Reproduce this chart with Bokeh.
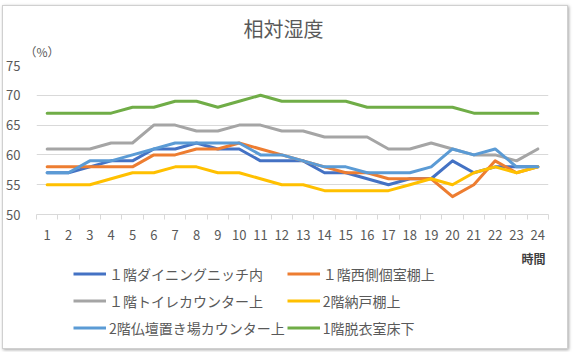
from bokeh.plotting import figure
from bokeh.layouts import column
from bokeh.models import (Range1d, FixedTicker, Legend, LegendItem, Label,
                          ColumnDataSource, Title)
from bokeh.embed import file_html
from bokeh.resources import INLINE

# ---- data ----
hours = list(range(1, 25))
hour_labels = [str(h) for h in hours]
y_ticks = [50, 55, 60, 65, 70, 75]

series_names = [
    "１階ダイニングニッチ内",
    "１階西側個室棚上",
    "１階トイレカウンター上",
    "2階納戸棚上",
    "2階仏壇置き場カウンター上",
    "1階脱衣室床下",
]
dining = [57, 57, 58, 59, 59, 61, 61, 62, 61, 61, 59, 59, 59, 57, 57, 56, 55, 56, 56, 59, 57, 58, 58, 58]
west_room = [58, 58, 58, 58, 58, 60, 60, 61, 61, 62, 61, 60, 59, 58, 57, 57, 56, 56, 56, 53, 55, 59, 57, 58]
toilet = [61, 61, 61, 62, 62, 65, 65, 64, 64, 65, 65, 64, 64, 63, 63, 63, 61, 61, 62, 61, 60, 60, 59, 61]
storage = [55, 55, 55, 56, 57, 57, 58, 58, 57, 57, 56, 55, 55, 54, 54, 54, 54, 55, 56, 55, 57, 58, 57, 58]
butsudan = [57, 57, 59, 59, 60, 61, 62, 62, 62, 62, 60, 60, 59, 58, 58, 57, 57, 57, 58, 61, 60, 61, 58, 58]
dressing = [67, 67, 67, 67, 68, 68, 69, 69, 68, 69, 70, 69, 69, 69, 69, 68, 68, 68, 68, 68, 67, 67, 67, 67]
series_values = [dining, west_room, toilet, storage, butsudan, dressing]
colors = ["#4472C4", "#ED7D31", "#A5A5A5", "#FFC000", "#5B9BD5", "#70AD47"]

title_text = "相対湿度"
unit_text = "（%）"
xlabel_text = "時間"

FONT = "Noto Sans CJK JP"
TXT = "#595959"
W = 566

# ---- main chart ----
p = figure(width=W, height=244, output_backend="svg", toolbar_location=None,
           x_range=Range1d(0.5, 24.5), y_range=Range1d(50, 75),
           min_border_left=32, min_border_right=19, min_border_top=59,
           min_border_bottom=36)
p.outline_line_color = None
p.background_fill_color = "white"
p.border_fill_color = "white"

# titles (listed from the frame outwards)
p.add_layout(Title(text=unit_text, align="left", offset=-12, standoff=12,
                   text_font=FONT, text_font_size="12px", text_font_style="normal",
                   text_color=TXT), "above")
p.add_layout(Title(text=title_text, align="left", offset=207, standoff=-16,
                   text_baseline="alphabetic",
                   text_font=FONT, text_font_size="20px", text_font_style="normal",
                   text_color=TXT), "above")

for vals, col in zip(series_values, colors):
    src = ColumnDataSource(dict(x=hours, y=vals))
    p.line("x", "y", source=src, line_color=col, line_width=3,
           line_join="round", line_cap="round")

p.xaxis.ticker = FixedTicker(ticks=hours, minor_ticks=[h - 0.5 for h in hours] + [24.5])
p.xaxis.major_label_overrides = {h: l for h, l in zip(hours, hour_labels)}
p.xaxis.major_tick_line_color = None
p.xaxis.minor_tick_line_color = "#d9d9d9"
p.xaxis.minor_tick_in = 0
p.xaxis.minor_tick_out = 5
p.xaxis.axis_line_color = "#d9d9d9"
p.xaxis.major_label_standoff = 9
p.xaxis.major_label_text_font = FONT
p.xaxis.major_label_text_font_size = "13px"
p.xaxis.major_label_text_color = TXT

p.yaxis.ticker = FixedTicker(ticks=y_ticks)
p.yaxis.axis_line_color = None
p.yaxis.major_tick_line_color = None
p.yaxis.minor_tick_line_color = None
p.yaxis.major_label_standoff = 10
p.yaxis.major_label_text_font = FONT
p.yaxis.major_label_text_font_size = "13px"
p.yaxis.major_label_text_color = TXT

p.xgrid.grid_line_color = None
p.ygrid.ticker = FixedTicker(ticks=y_ticks)
p.ygrid.grid_line_color = "#d9d9d9"
p.ygrid.grid_line_width = 1

# ---- legend area (frame is aligned with the main chart's frame) ----
LH = 98
leg = figure(width=W, height=LH, output_backend="svg", toolbar_location=None,
             x_axis_type=None, y_axis_type=None,
             x_range=Range1d(0.5, 24.5), y_range=Range1d(LH, 0), min_border=0)
leg.outline_line_color = None
leg.grid.visible = False
leg.background_fill_color = "white"
leg.border_fill_color = "white"
leg.add_layout(Label(x=23.8, y=8, text=xlabel_text, text_align="center",
                     text_baseline="middle", text_font=FONT, text_font_size="12px",
                     text_font_style="bold", text_color="#404040"))
swatches = []
for name, col in zip(series_names, colors):
    src = ColumnDataSource(dict(x=[float("nan")], y=[float("nan")]))
    swatches.append(leg.line("x", "y", source=src, line_color=col, line_width=3))

# legend is filled column by column -> order items so rows read like the reference
order = [0, 2, 4, 1, 3, 5]
items = [LegendItem(label=series_names[i], renderers=[swatches[i]]) for i in order]
legend = Legend(items=items, ncols=2, location=(37, 8))
legend.border_line_color = None
legend.background_fill_alpha = 0
legend.label_text_font = FONT
legend.label_text_font_size = "14px"
legend.label_text_color = TXT
legend.glyph_width = 33
legend.glyph_height = 25
legend.label_height = 25
legend.spacing = 2
legend.label_standoff = 3
legend.margin = 0
legend.padding = 0
leg.add_layout(legend, "center")

layout = column(p, leg, spacing=0, width=W)
layout.styles = {"margin-left": "2px", "margin-top": "5px",
                 "box-shadow": "1px 1px 3px rgba(0,0,0,0.35)",
                 "border": "1px solid #d0d0d0", "background": "white"}

open("out.html", "w").write(file_html(layout, INLINE))
